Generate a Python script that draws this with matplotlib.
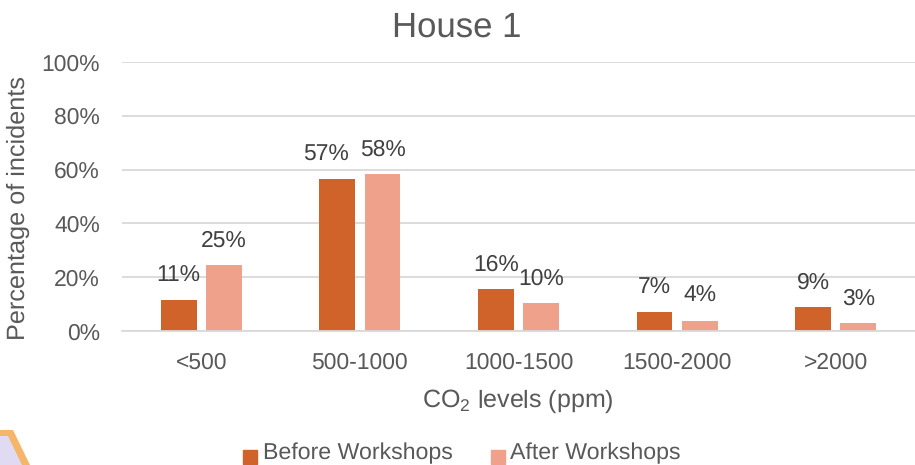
import matplotlib
matplotlib.use('Agg')
import matplotlib.pyplot as plt
from matplotlib.patches import Polygon, Rectangle
import numpy as np

categories = ['<500', '500-1000', '1000-1500', '1500-2000', '>2000']
before = [11.4, 56.6, 15.7, 7.1, 8.9]
after = [24.6, 58.2, 10.3, 3.9, 3.0]
before_labels = ['11%', '57%', '16%', '7%', '9%']
after_labels = ['25%', '58%', '10%', '4%', '3%']
y_ticks = [0, 20, 40, 60, 80, 100]

plt.rcParams['font.family'] = ['Liberation Sans', 'DejaVu Sans']
plt.rcParams['mathtext.fontset'] = 'custom'
plt.rcParams['mathtext.rm'] = 'Liberation Sans'
plt.rcParams['text.hinting'] = 'none'
text_col = '#404040'
grey_col = '#595959'

W, H = 915, 465
fig = plt.figure(figsize=(W/100, H/100), dpi=100)
ax = fig.add_axes([122/W, 1-331/H, (915-122)/W, (331-62)/H])

x = np.arange(len(categories))
ax.bar(x-0.1425, before, 0.225, color='#D0632A')
ax.bar(x+0.1425, after, 0.225, color='#F0A18B')

# all labels sit the same height above the bar, only 57% was pulled left
before_dx = [0, -0.069, 0, 0, 0]
for i in range(len(categories)):
    ax.text(x[i]-0.1425+before_dx[i], before[i]+9.0, before_labels[i], ha='center', va='center', fontsize=16.5, color=text_col)
    ax.text(x[i]+0.1425, after[i]+9.0, after_labels[i], ha='center', va='center', fontsize=16.5, color=text_col)

ax.set_xlim(-0.5, 4.5)
ax.set_ylim(0, 100)
ax.set_yticks(y_ticks)
ax.set_yticklabels([str(v)+'%' for v in y_ticks], fontsize=16.5, color=grey_col)
ax.set_xticks(x)
ax.set_xticklabels(categories, fontsize=16.5, color=grey_col)
ax.tick_params(length=0, axis='both')
ax.tick_params(axis='x', pad=15)
ax.tick_params(axis='y', pad=16)
ax.grid(axis='y', color='#D9D9D9', lw=1.3)
ax.set_axisbelow(True)
for s in ['top', 'right', 'left']:
    ax.spines[s].set_visible(False)
ax.spines['bottom'].set_color('#D9D9D9')
ax.spines['bottom'].set_linewidth(1.3)

fig.text(457/W, 1-28/H, 'House 1', fontsize=25, color=grey_col, ha='center', va='center')
fig.text(518/W, 1-401/H, 'CO$_2$ levels (ppm)', fontsize=18, color=grey_col, ha='center', va='center')
fig.text(18/W, 1-208/H, 'Percentage of incidents', fontsize=18.2, color=grey_col, ha='center', va='center', rotation=90)

# legend
fig.patches.append(Rectangle((243/W, 1-464/H), 14/W, 14/H, transform=fig.transFigure, color='#D0632A'))
fig.text(263/W, 1-459/H, 'Before Workshops', fontsize=16.7, color=grey_col, ha='left', va='baseline')
fig.patches.append(Rectangle((491/W, 1-464/H), 14/W, 14/H, transform=fig.transFigure, color='#F0A18B'))
fig.text(510/W, 1-459/H, 'After Workshops', fontsize=16.7, color=grey_col, ha='left', va='baseline')

# corner decoration
fig.patches.append(Polygon([(0, 0), (0, 35/H), (13/W, 35/H), (30/W, 0)], transform=fig.transFigure, facecolor='#F5B66A', edgecolor='none'))
fig.patches.append(Polygon([(0, 0), (0, 29/H), (8/W, 29/H), (22/W, 0)], transform=fig.transFigure, facecolor='#E0DAF2', edgecolor='none'))

fig.savefig('out.png', dpi=100)
